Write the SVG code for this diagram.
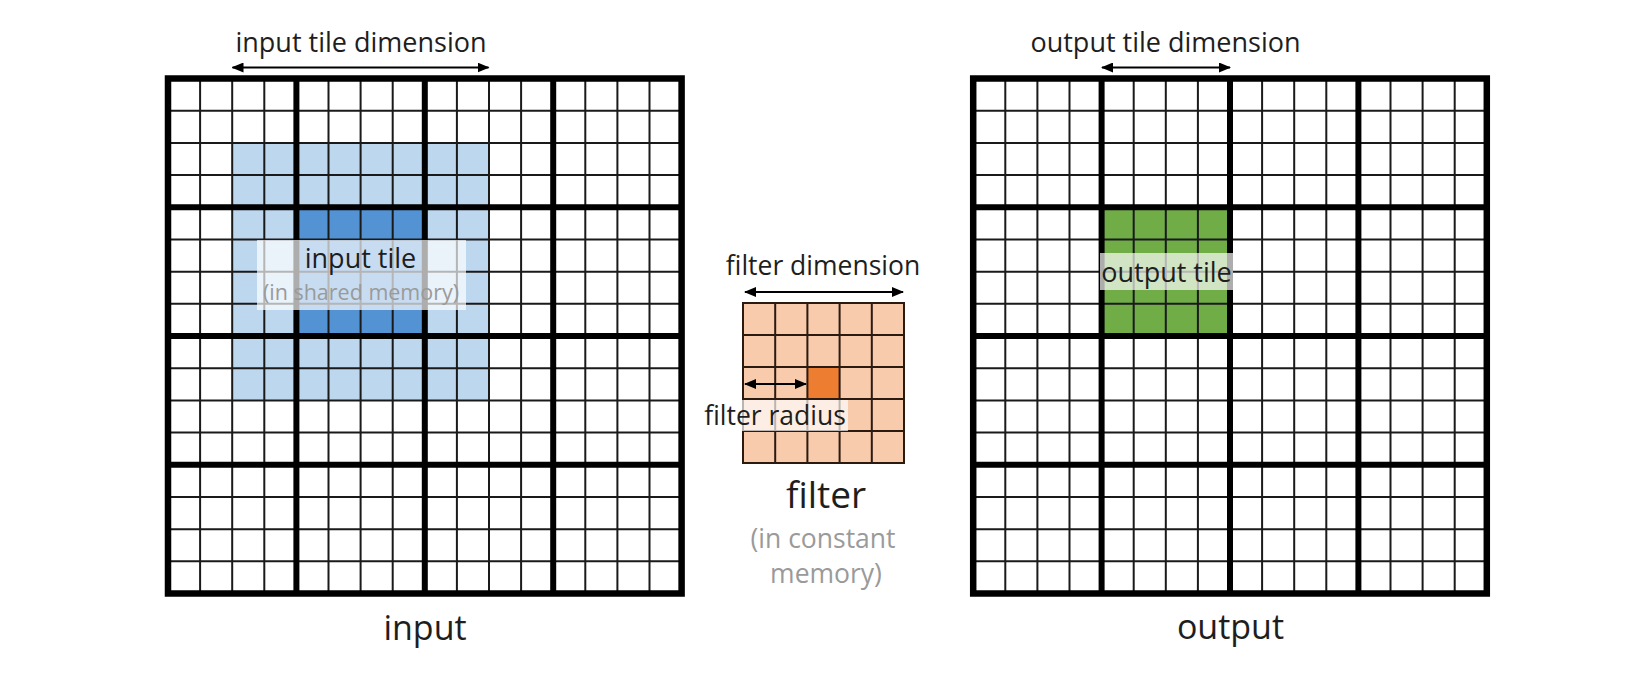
<svg xmlns="http://www.w3.org/2000/svg" width="1650" height="687" viewBox="0 0 1650 687">
<style>
text{font-family:"Open Sans","Liberation Sans",sans-serif;fill:#1e1e1e;text-anchor:middle}
.mid{font-size:27px}
.big{font-size:34px}
.gray{fill:#9a9a9a}
.thin{stroke:#1a1a1a;stroke-width:2;fill:none}
.thick{stroke:#000;stroke-width:6;fill:none}
.outer{stroke:#000;stroke-width:6.5;fill:none}
.fthin{stroke:#2a1a10;stroke-width:2;fill:none}
.lbl{fill:#fff;fill-opacity:0.68}
.arrow{stroke:#000;stroke-width:2;fill:none;marker-start:url(#ah);marker-end:url(#ah)}
</style>
<defs>
<marker id="ah" viewBox="0 0 12 10" refX="11" refY="5" markerWidth="12" markerHeight="10" markerUnits="userSpaceOnUse" orient="auto-start-reverse">
<path d="M0,0 L12,5 L0,10 Z" fill="#000"/>
</marker>
</defs>
<rect width="1650" height="687" fill="#fff"/>

<g id="input">
<rect x="232.2" y="142.875" width="256.8" height="257.5" fill="#bdd7ee"/>
<rect x="296.4" y="207.25" width="128.4" height="128.75" fill="#5393d4"/>
<path class="thin" d="M200.1 78.5V593.5M232.2 78.5V593.5M264.3 78.5V593.5M328.5 78.5V593.5M360.6 78.5V593.5M392.7 78.5V593.5M456.9 78.5V593.5M489 78.5V593.5M521.1 78.5V593.5M585.3 78.5V593.5M617.4 78.5V593.5M649.5 78.5V593.5M168 110.6875H681.6M168 142.875H681.6M168 175.0625H681.6M168 239.4375H681.6M168 271.625H681.6M168 303.8125H681.6M168 368.1875H681.6M168 400.375H681.6M168 432.5625H681.6M168 496.9375H681.6M168 529.125H681.6M168 561.3125H681.6"/>
<path class="thick" d="M296.4 78.5V593.5M424.8 78.5V593.5M553.2 78.5V593.5M168 207.25H681.6M168 336H681.6M168 464.75H681.6"/>
<rect class="outer" x="168" y="78.5" width="513.6" height="515"/>
<text class="big" x="425" y="640">input</text>
</g>

<g id="input-tile-label">
<rect class="lbl" x="257" y="240" width="209" height="70"/>
<text class="mid" x="360.5" y="267.5">input tile</text>
<text class="gray" x="361" y="300" font-size="21.5px">(in shared memory)</text>
</g>

<g id="filter">
<rect x="743" y="303" width="161" height="160" fill="#f8cbad"/>
<rect x="807.4" y="367" width="32.2" height="32" fill="#ed7d31"/>
<path class="fthin" d="M743 303H904V463H743ZM775.2 303V463M807.4 303V463M839.6 303V463M871.8 303V463M743 335H904M743 367H904M743 399H904M743 431H904"/>
<text x="826" y="508" font-size="37px">filter</text>
<text class="gray" x="823" y="548" font-size="26.5px">(in constant</text>
<text class="gray" x="826" y="583" font-size="26.5px">memory)</text>
</g>

<g id="filter-radius-label">
<rect class="lbl" x="742" y="400" width="106" height="31"/>
<text x="775" y="425" font-size="26.5px">filter radius</text>
</g>

<g id="output">
<rect x="1101.6" y="207.25" width="128.4" height="128.75" fill="#70ad47"/>
<path class="thin" d="M1005.3 78.5V593.5M1037.4 78.5V593.5M1069.5 78.5V593.5M1133.7 78.5V593.5M1165.8 78.5V593.5M1197.9 78.5V593.5M1262.1 78.5V593.5M1294.2 78.5V593.5M1326.3 78.5V593.5M1390.5 78.5V593.5M1422.6 78.5V593.5M1454.7 78.5V593.5M973.2 110.6875H1486.8M973.2 142.875H1486.8M973.2 175.0625H1486.8M973.2 239.4375H1486.8M973.2 271.625H1486.8M973.2 303.8125H1486.8M973.2 368.1875H1486.8M973.2 400.375H1486.8M973.2 432.5625H1486.8M973.2 496.9375H1486.8M973.2 529.125H1486.8M973.2 561.3125H1486.8"/>
<path class="thick" d="M1101.6 78.5V593.5M1230 78.5V593.5M1358.4 78.5V593.5M973.2 207.25H1486.8M973.2 336H1486.8M973.2 464.75H1486.8"/>
<rect class="outer" x="973.2" y="78.5" width="513.6" height="515"/>
<text class="big" x="1230.5" y="639">output</text>
</g>

<g id="output-tile-label">
<rect class="lbl" x="1100" y="253" width="133" height="37"/>
<text class="mid" x="1166.5" y="282">output tile</text>
</g>

<g id="connectors">
<path class="arrow" d="M232.5 67.5H488.5"/>
<text class="mid" x="361" y="52">input tile dimension</text>
<path class="arrow" d="M1102 67.5H1230"/>
<text class="mid" x="1165.5" y="52">output tile dimension</text>
<path class="arrow" d="M745 292H903"/>
<text x="823" y="275" font-size="26.5px">filter dimension</text>
<path class="arrow" d="M745 384H806"/>
</g>
</svg>
